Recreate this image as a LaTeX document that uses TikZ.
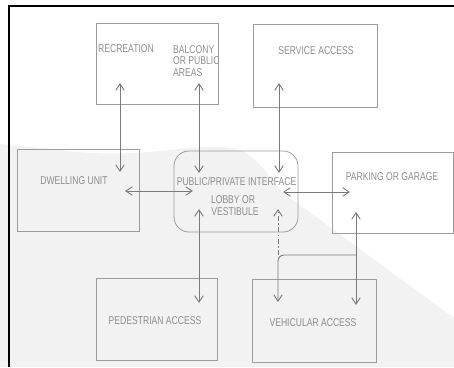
\documentclass[tikz,border=0pt]{standalone}
\usepackage{fontspec}
\newfontfamily\lett[FakeStretch=0.76]{Liberation Sans}
\usetikzlibrary{arrows.meta}
\definecolor{ln}{HTML}{7A7A7A}
\definecolor{bx}{HTML}{9C9C9C}
\definecolor{tx}{HTML}{8C8C8C}
\definecolor{wm}{HTML}{F2F2F2}
\tikzset{
  box/.style={draw=bx, line width=0.8pt, inner sep=0pt},
  lbl/.style={text=tx, inner sep=0pt, anchor=base, font=\lett\fontsize{11.3}{12}\selectfont},
  bar/.tip={Straight Barb[length=6.5pt,width=8.5pt]},
  link/.style={draw=ln, line width=0.9pt},
  both/.style={link, bar-bar},
  frame/.style={draw=black}
}
\begin{document}
\begin{tikzpicture}[x=1pt,y=-1pt]
\useasboundingbox (0,0) rectangle (454,367);
% faint watermark background
\fill[wm] (0,144) -- (60,150) .. controls (150,162) and (200,138) .. (240,150)
  .. controls (262,160) and (270,180) .. (282,192) -- (454,318) -- (454,367) -- (0,367) -- cycle;
% frame
\draw[frame, line width=2.6pt] (9,367) -- (9,6);
\draw[frame, line width=1.8pt] (7.7,6) -- (454,6);

% boxes
\node[box, minimum width=122pt, minimum height=81pt] (rb) at (157,63.5) {};
\node[box, minimum width=124pt, minimum height=83pt] (sb) at (315,65.5) {};
\node[box, minimum width=122pt, minimum height=82pt] (db) at (78,190) {};
\node[box, rounded corners=15pt, minimum width=124pt, minimum height=81pt] (ib) at (236,191.5) {};
\node[box, minimum width=121pt, minimum height=81pt] (pb) at (392.5,192.5) {};
\node[box, minimum width=121pt, minimum height=82pt] (eb) at (156.5,319) {};
\node[box, minimum width=124pt, minimum height=83pt] (vb) at (314,320.5) {};

% labels
\node[lbl] (trec) at (126,52) {RECREATION};
\node[lbl, anchor=base west] (tbal1) at (173,53) {BALCONY};
\node[lbl, anchor=base west] (tbal2) at (173,64.5) {OR PUBLIC};
\node[lbl, anchor=base west] (tbal3) at (173,76) {AREAS};
\node[lbl] (tsvc) at (316,54) {SERVICE ACCESS};
\node[lbl] (tdw) at (74,184) {DWELLING UNIT};
\node[lbl] (tif) at (236.5,185) {PUBLIC/PRIVATE INTERFACE};
\node[lbl] (tlob) at (233,203) {LOBBY OR};
\node[lbl] (tves) at (235,215) {VESTIBULE};
\node[lbl] (tpk) at (392,180) {PARKING OR GARAGE};
\node[lbl] (tped) at (155,324) {PEDESTRIAN ACCESS};
\node[lbl] (tveh) at (313,326) {VEHICULAR ACCESS};

% connector end points
\coordinate (r1) at (120,83);   \coordinate (r2) at (120,172);
\coordinate (b1) at (199,83);   \coordinate (b2) at (199,173);
\coordinate (s1) at (279,83);   \coordinate (s2) at (279,173);
\coordinate (h1) at (125,191);  \coordinate (h2) at (193,191);
\coordinate (p1) at (283,192);  \coordinate (p2) at (350,192);
\coordinate (e1) at (199,209);  \coordinate (e2) at (199,303);
\coordinate (d1) at (278,209);  \coordinate (dc) at (278,255);
\coordinate (v1) at (278,302);  \coordinate (vj) at (356,255);
\coordinate (g1) at (356,212);  \coordinate (g2) at (356,305);

% connectors
\draw[both] (r1) -- (r2);
\draw[both] (b1) -- (b2);
\draw[both] (s1) -- (s2);
\draw[both] (h1) -- (h2);
\draw[both] (p1) -- (p2);
\draw[both] (e1) -- (e2);
\draw[link, -bar, dash pattern=on 5pt off 2.5pt on 1.5pt off 2.5pt] (dc) -- (d1);
\draw[link, bar-, rounded corners=6pt] (v1) |- (vj);
\draw[both] (g1) -- (g2);
\end{tikzpicture}
\end{document}
